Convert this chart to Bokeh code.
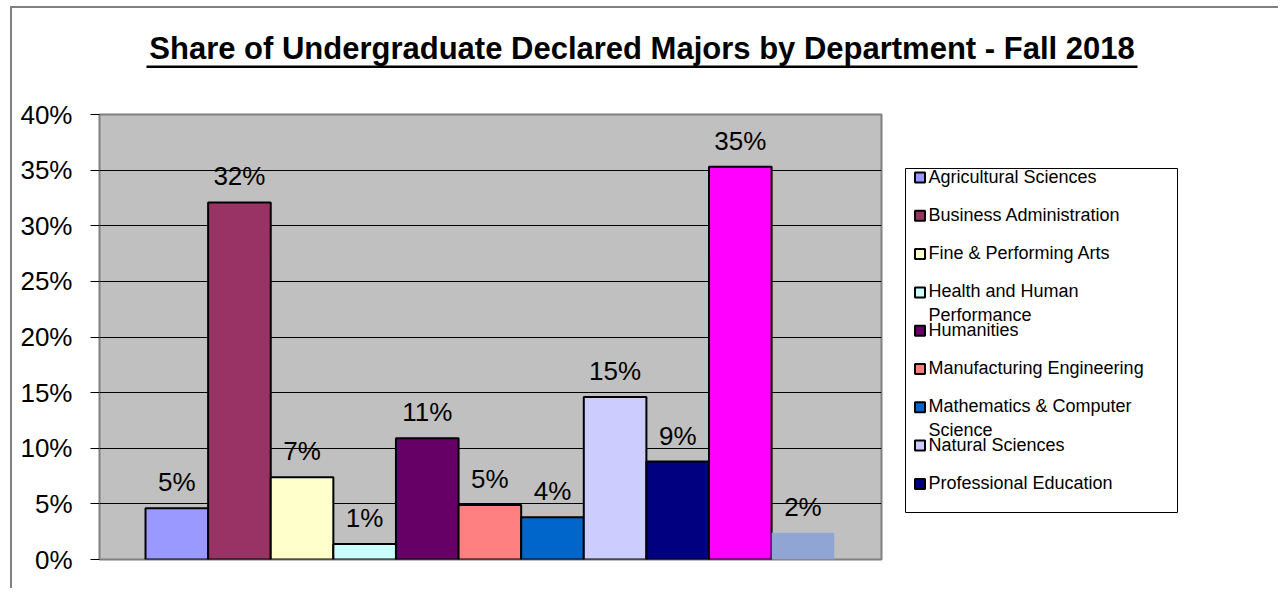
from bokeh.plotting import figure
from bokeh.layouts import column, row
from bokeh.models import (ColumnDataSource, Range1d, FixedTicker, NumeralTickFormatter)
from bokeh.core.properties import value
from bokeh.embed import file_html
from bokeh.resources import INLINE

# ---- data ----
departments = [
    "Agricultural Sciences",
    "Business Administration",
    "Fine & Performing Arts",
    "Health and Human Performance",
    "Humanities",
    "Manufacturing Engineering",
    "Mathematics & Computer Science",
    "Natural Sciences",
    "Professional Education",
    "Series 10",
    "Series 11",
]
shares = [0.046, 0.321, 0.074, 0.014, 0.109, 0.049, 0.038, 0.146, 0.088, 0.353, 0.024]
colors = ["#9999FF", "#993366", "#FFFFCC", "#CCFFFF", "#660066", "#FF8080",
          "#0066CC", "#CCCCFF", "#000080", "#FF00FF", "#91A5D5"]
outline_alpha = [1, 1, 1, 1, 1, 1, 1, 1, 1, 1, 0]
legend_labels = [
    "Agricultural Sciences",
    "Business Administration",
    "Fine & Performing Arts",
    "Health and Human\nPerformance",
    "Humanities",
    "Manufacturing Engineering",
    "Mathematics & Computer\nScience",
    "Natural Sciences",
    "Professional Education",
]
y_ticks = [0.0, 0.05, 0.10, 0.15, 0.20, 0.25, 0.30, 0.35, 0.40]
title_text = "Share of Undergraduate Declared Majors by Department - Fall 2018"

FONT = "Liberation Sans"

# ---- title strip (its frame is the title underline) ----
tfig = figure(width=1266, height=60, x_range=Range1d(0, 1), y_range=Range1d(0, 1),
              x_axis_type=None, y_axis_type=None,
              output_backend="svg", toolbar_location=None,
              min_border_left=134, min_border_right=141,
              min_border_top=57, min_border_bottom=0, frame_align=False)
tfig.background_fill_color = "black"
tfig.border_fill_color = "white"
tfig.outline_line_color = None
tfig.grid.visible = False
tfig.title.text = title_text
tfig.title.align = "center"
tfig.title.text_font = FONT
tfig.title.text_font_style = "bold"
tfig.title.text_font_size = "31px"
tfig.title.text_color = "black"
tfig.title.standoff = 0

# ---- main bar chart ----
src = ColumnDataSource(dict(
    x=list(range(len(shares))),
    share=shares,
    color=colors,
    lalpha=outline_alpha,
    label=[f"{v * 100:.0f}%" for v in shares],
    dept=departments,
))

p = figure(width=879, height=520,
           x_range=Range1d(-1.235, 11.255), y_range=Range1d(0, 0.40),
           output_backend="svg", toolbar_location=None,
           min_border_left=87, min_border_right=10,
           min_border_top=46, min_border_bottom=29, frame_align=False)

p.background_fill_color = "#C0C0C0"
p.border_fill_color = "white"
p.outline_line_color = "#808080"
p.outline_line_width = 2

p.xaxis.visible = False
p.xgrid.visible = False
p.ygrid.grid_line_color = "black"
p.ygrid.grid_line_width = 1

yax = p.yaxis[0]
yax.ticker = FixedTicker(ticks=y_ticks)
yax.formatter = NumeralTickFormatter(format="0%")
yax.major_tick_in = 0
yax.major_tick_out = 9
yax.minor_tick_line_color = None
yax.major_tick_line_color = "black"
yax.axis_line_color = "#808080"
yax.major_label_standoff = 18
yax.major_label_text_font = FONT
yax.major_label_text_font_size = "26px"
yax.major_label_text_color = "black"

p.vbar(x="x", top="share", width=1.0, bottom=0, source=src,
       fill_color="color", line_color="black", line_width=2,
       line_alpha="lalpha")

p.text(x="x", y="share", text="label", source=src,
       text_font=value(FONT), text_font_size="26px", text_color="black",
       text_align="center", text_baseline="alphabetic", y_offset=-26)

# ---- legend panel (its frame is the legend box) ----
lsrc = ColumnDataSource(dict(
    idx=list(range(len(legend_labels))),
    zero=[0] * len(legend_labels),
    label=legend_labels,
    color=colors[:len(legend_labels)],
))
lfig = figure(width=387, height=520,
              x_range=Range1d(-14.5, 257.5), y_range=Range1d(8.747, -0.235),
              x_axis_type=None, y_axis_type=None,
              output_backend="svg", toolbar_location=None,
              min_border_left=14, min_border_right=101,
              min_border_top=100, min_border_bottom=76, frame_align=False)
lfig.background_fill_color = "white"
lfig.border_fill_color = "white"
lfig.outline_line_color = "black"
lfig.outline_line_width = 1
lfig.grid.visible = False
lfig.scatter(x="zero", y="idx", source=lsrc, marker="square", size=10,
             fill_color="color", line_color="black", line_width=2)
lfig.text(x="zero", y="idx", text="label", source=lsrc,
          text_font=value(FONT), text_font_size="18px", text_color="black",
          text_align="left", text_baseline="top", text_line_height=1.17,
          x_offset=8.5, y_offset=-11)

layout = column(tfig, row(p, lfig),
                margin=(6, 0, 0, 10),
                styles={"border-left": "2px solid #808080",
                        "border-top": "2px solid #808080"})

open("out.html", "w").write(file_html(layout, INLINE))
